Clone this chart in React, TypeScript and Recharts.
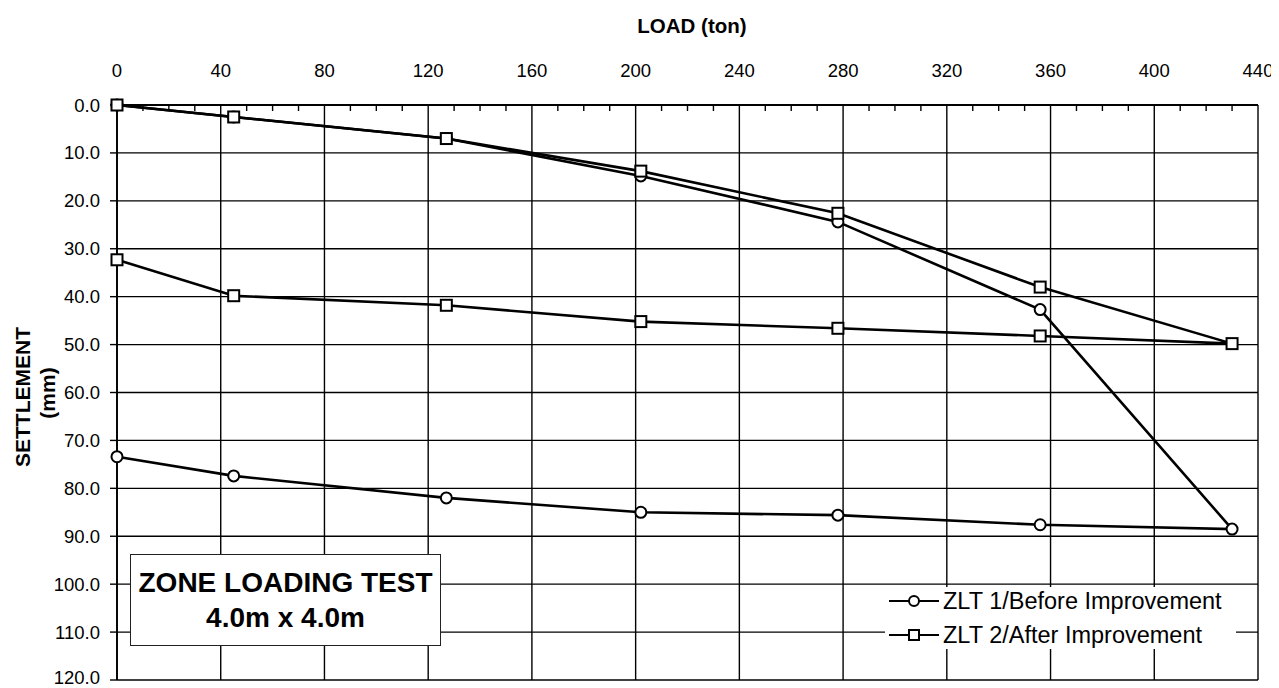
import React from 'react';
import { LineChart, Line, XAxis, YAxis, CartesianGrid, ReferenceLine } from 'recharts';

// Load steps (ton) for the loading branch and the unloading branch
const loadSteps = [0, 45, 127, 202, 278, 356, 430];
const unloadSteps = [356, 278, 202, 127, 45, 0];

// Settlement (mm)
const zlt1Loading = [0, 2.5, 7.0, 14.8, 24.4, 42.7, 88.5];
const zlt1Unloading = [87.6, 85.6, 85.0, 82.0, 77.4, 73.4];
const zlt2Loading = [0, 2.5, 7.0, 13.8, 22.6, 38.0, 49.8];
const zlt2Unloading = [48.2, 46.6, 45.2, 41.8, 39.8, 32.3];

const loadTicks = [0, 40, 80, 120, 160, 200, 240, 280, 320, 360, 400, 440];
const minorLoadTicks = [10, 20, 30, 50, 60, 70, 90, 100, 110, 130, 140, 150, 170, 180, 190, 210, 220, 230, 250, 260, 270, 290, 300, 310, 330, 340, 350, 370, 380, 390, 410, 420, 430];
const settlementTicks = [0, 10, 20, 30, 40, 50, 60, 70, 80, 90, 100, 110, 120];

const seriesNames = ['ZLT 1/Before Improvement', 'ZLT 2/After Improvement'];
const xTitle = 'LOAD (ton)';
const yTitleLines = ['SETTLEMENT', '(mm)'];
const boxLines = ['ZONE LOADING TEST', '4.0m x 4.0m'];

const buildPath = (loading: number[], unloading: number[]) => [
  ...loadSteps.map((load, i) => ({ load, settlement: loading[i] })),
  ...unloadSteps.map((load, i) => ({ load, settlement: unloading[i] })),
];

const zlt1Data = buildPath(zlt1Loading, zlt1Unloading);
const zlt2Data = buildPath(zlt2Loading, zlt2Unloading);

const FONT = '"Liberation Sans", Arial, Helvetica, sans-serif';

const renderCircle = (props: any) => {
  const { cx, cy, index } = props;
  if (cx == null || cy == null) return <g key={`c${index}`} />;
  return <circle key={`c${index}`} cx={cx} cy={cy} r={5.5} fill="#fff" stroke="#000" strokeWidth={2} />;
};

const renderSquare = (props: any) => {
  const { cx, cy, index } = props;
  if (cx == null || cy == null) return <g key={`s${index}`} />;
  return <rect key={`s${index}`} x={cx - 5.5} y={cy - 5.5} width={11} height={11} fill="#fff" stroke="#000" strokeWidth={2} />;
};

// short minor tick hanging from the top border
const MinorTickShape = (props: any) => {
  const { x1, y1, y2 } = props;
  if (x1 == null || y1 == null || y2 == null) return <g />;
  const top = Math.min(y1, y2);
  return <line x1={x1} x2={x1} y1={top} y2={top + 6} stroke="#000" strokeWidth={1.4} />;
};

const XTick = (props: any) => {
  const { x, y, payload } = props;
  return (
    <text x={x} y={y} dy={-28} textAnchor="middle" fill="#000" fontSize={18.5} fontFamily={FONT}>
      {payload.value}
    </text>
  );
};

const LegendIcon = ({ kind }: { kind: 'circle' | 'square' }) => (
  <svg width={50} height={16} style={{ display: 'block', flex: 'none' }}>
    <line x1={0} y1={8} x2={50} y2={8} stroke="#000" strokeWidth={2} />
    {kind === 'circle' ? (
      <circle cx={25} cy={8} r={5} fill="#fff" stroke="#000" strokeWidth={2} />
    ) : (
      <rect x={20} y={3} width={10} height={10} fill="#fff" stroke="#000" strokeWidth={2} />
    )}
  </svg>
);

export default function App() {
  return (
    <div style={{ position: 'relative', width: 1265, height: 680, fontFamily: FONT, background: '#fff' }}>
      <LineChart width={1265} height={680} margin={{ top: 56, right: 15, bottom: 8, left: 49 }}>
        <CartesianGrid stroke="#000" strokeWidth={1.4} strokeDasharray="" />
        <XAxis
          type="number"
          dataKey="load"
          orientation="top"
          domain={[0, 440]}
          ticks={loadTicks}
          height={41}
          tickSize={0}
          tickMargin={0}
          tickLine={false}
          axisLine={{ stroke: '#000', strokeWidth: 1.8 }}
          tick={<XTick />}
        />
        <YAxis
          type="number"
          dataKey="settlement"
          reversed
          domain={[0, 120]}
          ticks={settlementTicks}
          width={60}
          tickSize={7}
          tickMargin={10}
          tickLine={{ stroke: '#000', strokeWidth: 1.4 }}
          axisLine={{ stroke: '#000', strokeWidth: 1.8 }}
          tick={{ fill: '#000', fontSize: 18.5, fontFamily: FONT }}
          tickFormatter={(v: number) => v.toFixed(1)}
        />
        {minorLoadTicks.map((t) => (
          <ReferenceLine key={`m${t}`} x={t} stroke="#000" shape={MinorTickShape} />
        ))}
        <Line
          data={zlt1Data}
          dataKey="settlement"
          name={seriesNames[0]}
          type="linear"
          stroke="#000"
          strokeWidth={2.6}
          dot={renderCircle}
          activeDot={false}
          isAnimationActive={false}
        />
        <Line
          data={zlt2Data}
          dataKey="settlement"
          name={seriesNames[1]}
          type="linear"
          stroke="#000"
          strokeWidth={2.6}
          dot={renderSquare}
          activeDot={false}
          isAnimationActive={false}
        />
      </LineChart>

      {/* X axis title */}
      <div
        style={{
          position: 'absolute',
          left: 684,
          top: 18,
          transform: 'translate(-50%, -50%)',
          fontSize: 20.5,
          fontWeight: 'bold',
          whiteSpace: 'nowrap',
          color: '#000',
        }}
      >
        {xTitle}
      </div>

      {/* Y axis title */}
      <div
        style={{
          position: 'absolute',
          left: 15,
          top: 389,
          transform: 'translate(-50%, -50%) rotate(-90deg)',
          fontSize: 21,
          fontWeight: 'bold',
          whiteSpace: 'nowrap',
          color: '#000',
        }}
      >
        {yTitleLines[0]}
      </div>
      <div
        style={{
          position: 'absolute',
          left: 40,
          top: 385,
          transform: 'translate(-50%, -50%) rotate(-90deg)',
          fontSize: 21,
          fontWeight: 'bold',
          whiteSpace: 'nowrap',
          color: '#000',
        }}
      >
        {yTitleLines[1]}
      </div>

      {/* Text box */}
      <div
        style={{
          position: 'absolute',
          left: 122,
          top: 546,
          width: 311,
          height: 92,
          boxSizing: 'border-box',
          border: '1.5px solid #222',
          background: '#fff',
          display: 'flex',
          flexDirection: 'column',
          alignItems: 'center',
          justifyContent: 'center',
          fontWeight: 'bold',
          fontSize: 28,
          lineHeight: '35px',
          color: '#000',
        }}
      >
        <div>{boxLines[0]}</div>
        <div>{boxLines[1]}</div>
      </div>

      {/* Legend */}
      <div
        style={{
          position: 'absolute',
          left: 877,
          top: 579,
          width: 351,
          height: 62,
          background: '#fff',
          display: 'flex',
          flexDirection: 'column',
          justifyContent: 'center',
          gap: 8,
          paddingLeft: 4,
          boxSizing: 'border-box',
          fontSize: 23.5,
          color: '#000',
        }}
      >
        <div style={{ display: 'flex', alignItems: 'center', height: 26 }}>
          <LegendIcon kind="circle" />
          <span style={{ marginLeft: 4, whiteSpace: 'nowrap' }}>{seriesNames[0]}</span>
        </div>
        <div style={{ display: 'flex', alignItems: 'center', height: 26 }}>
          <LegendIcon kind="square" />
          <span style={{ marginLeft: 4, whiteSpace: 'nowrap' }}>{seriesNames[1]}</span>
        </div>
      </div>
    </div>
  );
}
